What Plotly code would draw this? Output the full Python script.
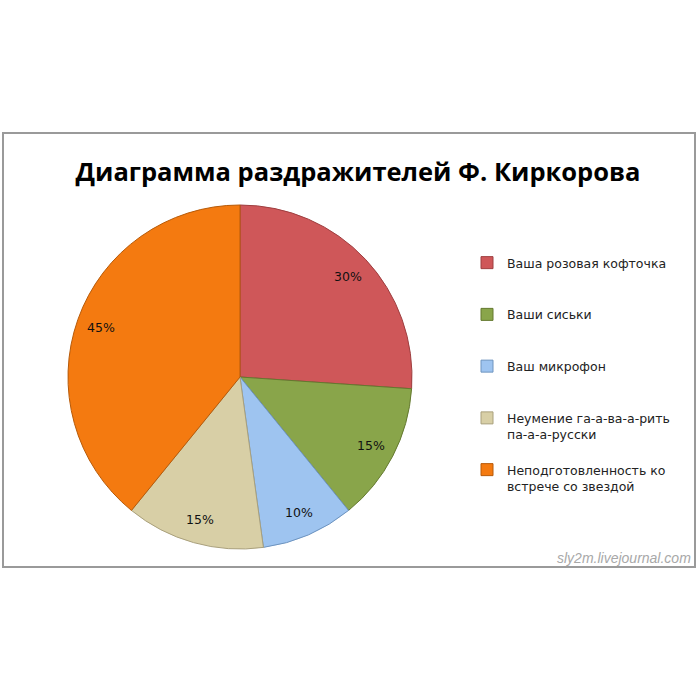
import math
import plotly.graph_objects as go

labels = [
    "Ваша розовая кофточка",
    "Ваши сиськи",
    "Ваш микрофон",
    "Неумение га-а-ва-а-рить<br>па-а-а-русски",
    "Неподготовленность ко<br>встрече со звездой",
]
values = [30, 15, 10, 15, 45]
colors = ["#CF5759", "#89A54A", "#9EC4F0", "#D8CFA6", "#F47A10"]
line_colors = ["#9E3F40", "#64792F", "#6E94BF", "#A9A07C", "#B75A08"]

W = H = 700
CX, CY, R = 240, 377, 172  # pie centre / radius in pixels

# pad legend labels to equal number of lines so entries are evenly spaced
legend_labels = []
for lab in labels:
    n = lab.count("<br>") + 1
    legend_labels.append(lab + "<br> " * (3 - n))

fig = go.Figure()
fig.add_trace(go.Pie(
    labels=legend_labels,
    values=values,
    sort=False,
    direction="clockwise",
    rotation=0,
    marker=dict(colors=colors, line=dict(color=line_colors, width=1)),
    textinfo="none",
    hoverinfo="label+value",
    domain=dict(x=[(CX - R) / W, (CX + R) / W],
                y=[1 - (CY + R) / H, 1 - (CY - R) / H]),
))

# percentage labels placed along each slice's bisector, derived from the values
annotations = []
total = sum(values)
cum = 0
for v in values:
    mid = (cum + v / 2) / total * 2 * math.pi
    cum += v
    k = 0.86
    annotations.append(dict(
        text=f"{v}%",
        xref="paper", yref="paper",
        x=(CX + k * R * math.sin(mid)) / W,
        y=1 - (CY - k * R * math.cos(mid)) / H,
        xanchor="center", yanchor="middle", showarrow=False,
        font=dict(family="DejaVu Sans", size=12.5, color="#111111"),
    ))

annotations.append(dict(
    text="<i>sly2m.livejournal.com</i>",
    xref="paper", yref="paper",
    x=693 / W, y=1 - 558 / H, xanchor="right", yanchor="middle",
    showarrow=False,
    font=dict(family="Liberation Sans", size=14, color="#A8A8A8"),
))

fig.update_layout(
    width=W, height=H,
    margin=dict(l=0, r=0, t=0, b=0),
    paper_bgcolor="white",
    plot_bgcolor="white",
    showlegend=True,
    title=dict(
        text="<b>Диаграмма раздражителей Ф. Киркорова</b>",
        x=358 / W, xanchor="center",
        y=1 - 172 / H, yanchor="middle",
        font=dict(family="Open Sans", size=25.5, color="#000000"),
    ),
    legend=dict(
        x=467 / W, xanchor="left",
        y=1 - 248 / H, yanchor="top",
        font=dict(family="DejaVu Sans", size=12.5, color="#222222"),
        valign="top",
        bgcolor="rgba(0,0,0,0)",
        traceorder="normal",
    ),
    shapes=[dict(
        type="rect", xref="paper", yref="paper",
        x0=3 / W, x1=695 / W, y0=1 - 567 / H, y1=1 - 133 / H,
        line=dict(color="#9A9A9A", width=2), fillcolor="rgba(0,0,0,0)",
        layer="below",
    )],
    annotations=annotations,
)

fig.write_html(
    "out.html",
    config={"displayModeBar": False},
    post_script="document.body.style.margin='0';",
)
